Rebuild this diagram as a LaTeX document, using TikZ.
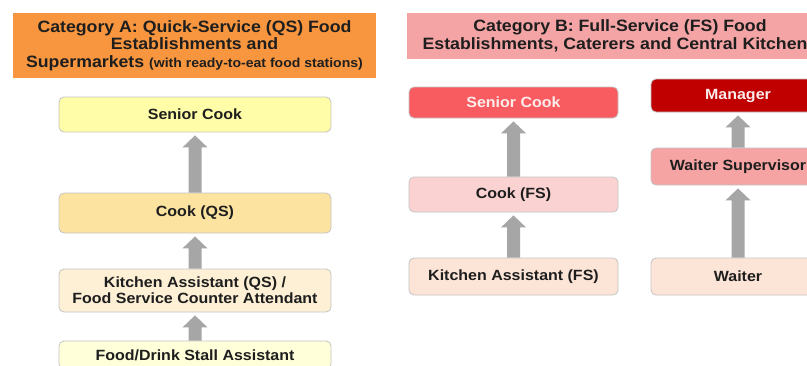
\documentclass[tikz,border=0pt]{standalone}
\usepackage{fontspec}
\setmainfont{Liberation Sans}[FakeStretch=1.08]
\usetikzlibrary{calc}
\definecolor{hdrA}{HTML}{F7963F}
\definecolor{hdrB}{HTML}{F4A4A4}
\definecolor{txtdark}{HTML}{1E1E1E}
\definecolor{boxborder}{HTML}{C4C4C4}
\definecolor{arrgray}{HTML}{A6A6A6}
\definecolor{cA1}{HTML}{FFFDA8}
\definecolor{cA2}{HTML}{FDE3A0}
\definecolor{cA3}{HTML}{FDF0D5}
\definecolor{cA4}{HTML}{FFFFDA}
\definecolor{cB1}{HTML}{F85C60}
\definecolor{cB2}{HTML}{FBD2D2}
\definecolor{cB3}{HTML}{FCE4D6}
\definecolor{cM}{HTML}{C00000}
\definecolor{cWS}{HTML}{F5A3A3}
\definecolor{whitish}{HTML}{FCECEC}
\newcommand\boxfont{\bfseries\fontsize{14.8}{16}\selectfont}
\newcommand\hdrfont{\bfseries\fontsize{16.4}{17.6}\selectfont}
\newcommand\smallhdr{\bfseries\fontsize{13}{14}\selectfont}
\newcommand\uparr[2]{%
  \fill[arrgray] let \p1=(#1.north), \p2=(#2.south) in
    (\x1-6.5pt,\y1) -- (\x1-6.5pt,\y2-15pt) -- (\x1-12.5pt,\y2-15pt) --
    (\x1,\y2-3pt) -- (\x1+12.5pt,\y2-15pt) -- (\x1+6.5pt,\y2-15pt) --
    (\x1+6.5pt,\y1) -- cycle;}
\tikzset{
  rolebox/.style={draw=boxborder, line width=0.8pt, rounded corners=5pt,
    align=center, font=\boxfont, text=txtdark, inner sep=0pt},
  colA/.style={rolebox, minimum width=272pt},
  colB/.style={rolebox, minimum width=209pt},
  colC/.style={rolebox, minimum width=174pt},
  hdrbox/.style={align=center, font=\hdrfont, text=txtdark, inner sep=0pt}
}
\begin{document}
\begin{tikzpicture}[x=1pt,y=-1pt]
\useasboundingbox (0,0) rectangle (807,365);
\clip (0,0) rectangle (807,365);
\fill[white] (0,0) rectangle (807,365);
% headers
\node[hdrbox, fill=hdrA, minimum width=363pt, minimum height=65pt] (hA) at (194.5,45.5)
  {Category A: Quick-Service (QS) Food\\Establishments and\\Supermarkets {\smallhdr(with ready-to-eat food stations)}};
\node[hdrbox, fill=hdrB, minimum width=426pt, minimum height=46pt] (hB) at (620,36)
  {Category B: Full-Service (FS) Food\\Establishments, Caterers and Central Kitchen\hphantom{s}};
% column A
\node[colA, fill=cA1, minimum height=35pt] (a1) at (195,114.5) {Senior Cook};
\node[colA, fill=cA2, minimum height=40pt] (a2) at (195,213) {Cook (QS)};
\node[colA, fill=cA3, minimum height=43pt] (a3) at (195,290.5) {Kitchen Assistant (QS) /\\Food Service Counter Attendant};
\node[colA, fill=cA4, minimum height=28pt] (a4) at (195,355) {Food/Drink Stall Assistant};
% column B kitchen
\node[colB, fill=cB1, text=whitish, minimum height=31pt] (b1) at (513.5,102.5) {Senior Cook};
\node[colB, fill=cB2, minimum height=35pt] (b2) at (513.5,194.5) {Cook (FS)};
\node[colB, fill=cB3, minimum height=37pt] (b3) at (513.5,276.5) {Kitchen Assistant (FS)};
% column B service
\node[colC, fill=cM, text=whitish, minimum height=33pt] (c1) at (738,95.5) {Manager};
\node[colC, fill=cWS, minimum height=37pt] (c2) at (738,166.5) {Waiter Supervisor};
\node[colC, fill=cB3, minimum height=37pt] (c3) at (738,276.5) {Waiter};
% arrows
\uparr{a2}{a1}
\uparr{a3}{a2}
\uparr{a4}{a3}
\uparr{b2}{b1}
\uparr{b3}{b2}
\uparr{c2}{c1}
\uparr{c3}{c2}
\end{tikzpicture}
\end{document}
